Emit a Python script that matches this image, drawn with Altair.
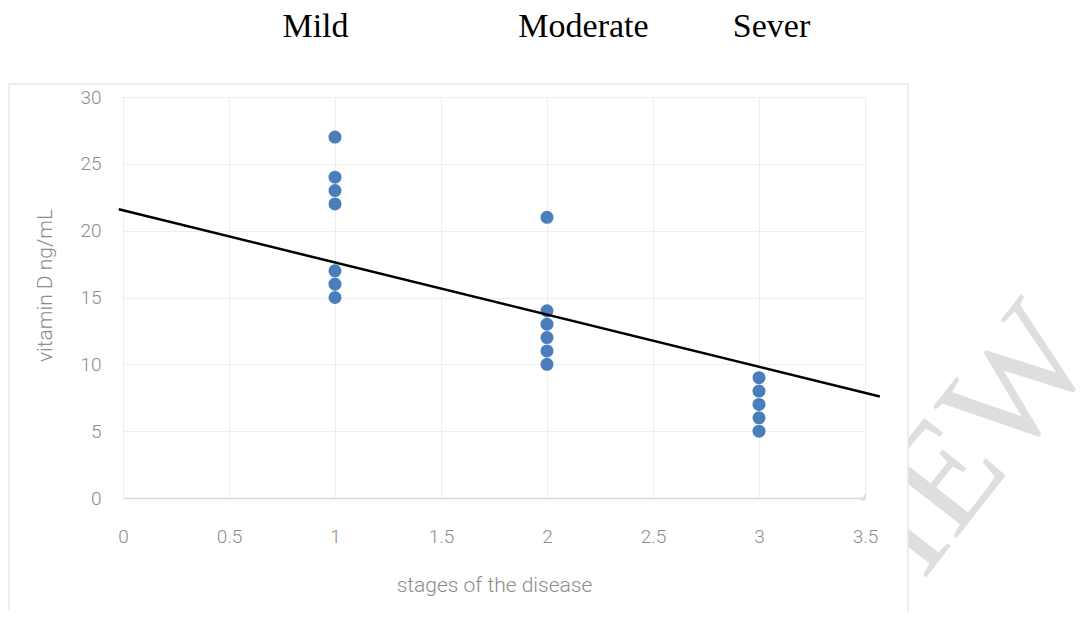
import altair as alt
import pandas as pd

# Data
stage = [1, 1, 1, 1, 1, 1, 1, 2, 2, 2, 2, 2, 2, 3, 3, 3, 3, 3]
vitamin_d = [27, 24, 23, 22, 17, 16, 15, 21, 14, 13, 12, 11, 10, 9, 8, 7, 6, 5]
trend_stage = [-0.02, 3.57]
trend_vitd = [21.6, 7.6]
x_ticks = [0, 0.5, 1, 1.5, 2, 2.5, 3, 3.5]
y_ticks = [0, 5, 10, 15, 20, 25, 30]
severity = ["Mild", "Moderate", "Sever"]
watermark_text = "IEW"

points_df = pd.DataFrame({"stage": stage, "vitd": vitamin_d})
trend_df = pd.DataFrame({"stage": trend_stage, "vitd": trend_vitd})
one = pd.DataFrame({"k": [0]})

W, H = 742, 401
FONT = "Roboto"
GRAY = "#8c8c8c"

x_axis = alt.Axis(
    values=x_ticks, format="~g", grid=True, gridColor="#eeeeee", domainColor="#d9d9d9",
    domainWidth=1.5, ticks=False, tickSize=0, labelPadding=29, labelFontSize=19,
    labelFont=FONT, labelFontWeight=300, labelColor=GRAY, labelBaseline="top", labelFlush=False,
    title="stages of the disease", titleFont=FONT, titleFontSize=21,
    titleFontWeight=300, titleColor=GRAY, titleX=W / 2, titleY=93,
    titleBaseline="alphabetic", titleAlign="center",
)
y_axis = alt.Axis(
    values=y_ticks, grid=True, gridColor="#eeeeee", domain=False,
    ticks=False, tickSize=0, labelPadding=22, labelFontSize=19, labelFont=FONT,
    labelFontWeight=300, labelColor=GRAY, title="vitamin D  ng/mL", titleFont=FONT,
    titleFontSize=21, titleFontWeight=300, titleColor=GRAY, titleX=-72, titleY=188,
    titleAngle=270, titleBaseline="alphabetic", titleAlign="center",
)
x_scale = alt.Scale(domain=[0, 3.5], nice=False, zero=False)
y_scale = alt.Scale(domain=[0, 30], nice=False)

x_enc = alt.X("stage:Q", scale=x_scale, axis=x_axis)
y_enc = alt.Y("vitd:Q", scale=y_scale, axis=y_axis)

points = alt.Chart(points_df).mark_circle(size=170, opacity=1, color="#4A7EBB").encode(
    x=x_enc, y=y_enc
)
trend = alt.Chart(trend_df).mark_line(color="black", strokeWidth=2.5, clip=False).encode(
    x=x_enc, y=y_enc
)

# watermark (partially hidden behind the chart frame)
wm = alt.Chart(one).mark_text(
    text=watermark_text, font="Liberation Serif", fontSize=152, angle=308,
    align="center", baseline="middle", color="#dedede",
).encode(x=alt.value(852), y=alt.value(343))

cover1 = alt.Chart(one).mark_rect(color="white").encode(
    x=alt.value(743), x2=alt.value(785), y=alt.value(-13), y2=alt.value(423)
)
cover2 = alt.Chart(one).mark_rect(color="white").encode(
    x=alt.value(759), x2=alt.value(785), y=alt.value(423), y2=alt.value(540)
)
cover3 = alt.Chart(one).mark_rect(color="white").encode(
    x=alt.value(700), x2=alt.value(785), y=alt.value(403.5), y2=alt.value(429)
)
cover4 = alt.Chart(one).mark_rect(color="white").encode(
    x=alt.value(715), x2=alt.value(741), y=alt.value(345), y2=alt.value(400)
)
frame = alt.Chart(one).mark_rect(fillOpacity=0, stroke="#e8e8e8", strokeWidth=1.5).encode(
    x=alt.value(-114), x2=alt.value(785), y=alt.value(-13), y2=alt.value(540)
)

label_x = [192.5, 460.5, 648.5]
top_labels = []
for name, px in zip(severity, label_x):
    top_labels.append(
        alt.Chart(pd.DataFrame({"label": [name]})).mark_text(
            font="Liberation Serif", fontSize=34, color="black",
            align="center", baseline="alphabetic",
        ).encode(text="label:N", x=alt.value(px), y=alt.value(-60))
    )

chart = alt.layer(wm, cover1, cover2, cover3, cover4, frame, points, trend, *top_labels).properties(
    width=W, height=H,
    autosize=alt.AutoSizeParams(type="none"),
    padding={"left": 115, "top": 89, "right": 216, "bottom": 113},
).configure_view(stroke=None).configure(background="white")

chart.save("out.html", embed_options={"renderer": "svg", "actions": False})
